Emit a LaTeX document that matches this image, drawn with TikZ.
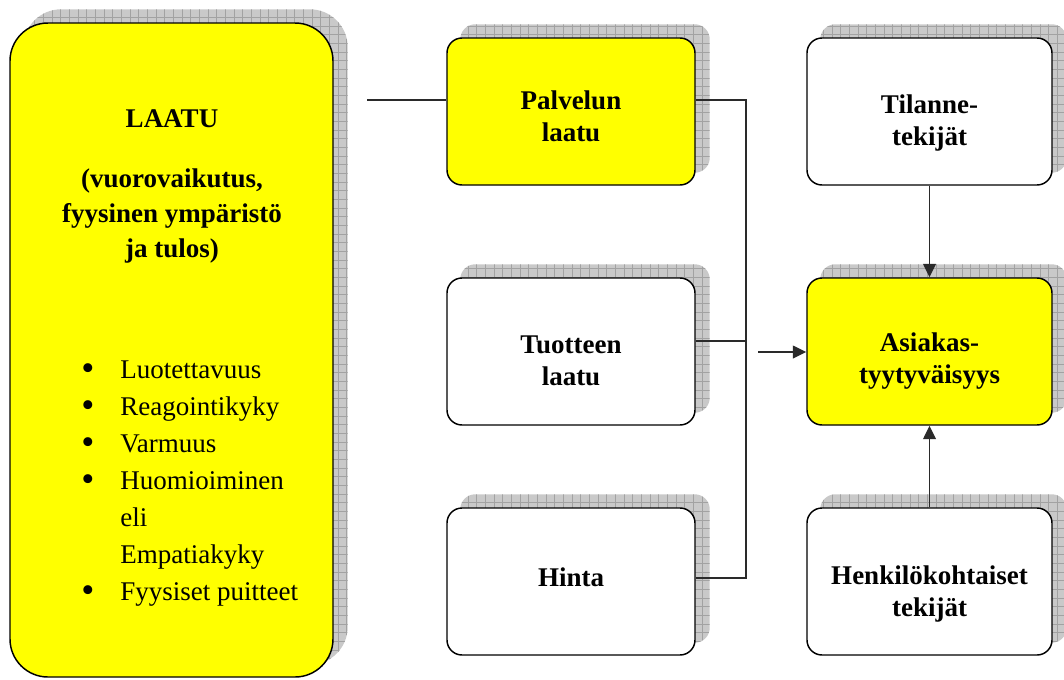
\documentclass[tikz,border=0pt]{standalone}
\usepackage{fontspec}
\setmainfont{Liberation Serif}
\usetikzlibrary{arrows.meta,backgrounds}

\definecolor{boxyellow}{HTML}{FFFF00}
\definecolor{shadowgray}{HTML}{C9C9C9}
\definecolor{gridgray}{HTML}{A2A2A2}
\definecolor{wiregray}{HTML}{2A2A2A}

\tikzset{
  card/.style={draw=black, line width=1.1pt, rounded corners=11.25pt,
    minimum width=186pt, minimum height=110.25pt, inner sep=0pt},
  cardR/.style={card, minimum width=183.75pt},
  bigcard/.style={draw=black, line width=1.1pt, rounded corners=28.5pt,
    minimum width=242.25pt, minimum height=490.5pt, inner sep=0pt},
  title/.style={inner sep=0pt, font=\bfseries\fontsize{20.25}{24}\selectfont},
  bodytext/.style={inner sep=0pt, font=\fontsize{20.25}{27.75}\selectfont},
  wire/.style={draw=wiregray, line width=1.1pt},
  arrow/.style={wire, -{Triangle[length=10pt,width=9.5pt]}},
}

% list bullet, a little larger than the text font's own
\newcommand\listdot{{\fontsize{28}{28}\selectfont\raisebox{-2.2pt}{\textbullet}}}

% grey gridded drop shadow behind a box node, offset up and to the right
\newcommand\castshadow[2]{%
  \begin{scope}
    \path[clip, rounded corners=#2]
      ([shift={(14,-13)}]#1.south west) rectangle ([shift={(14,-13)}]#1.north east);
    \fill[shadowgray]
      ([shift={(14,-13)}]#1.south west) rectangle ([shift={(14,-13)}]#1.north east);
    \draw[gridgray, line width=0.45pt, step=6.5pt]
      ([shift={(14,-13)}]#1.south west) grid ([shift={(14,-13)}]#1.north east);
  \end{scope}}

\begin{document}
\begin{tikzpicture}[x=0.75pt, y=-0.75pt]
\useasboundingbox (0,0) rectangle (1064,679);

% boxes
\node[bigcard, fill=boxyellow] (laatu)    at (171.5,350)  {};
\node[card,  fill=boxyellow]   (palvelun) at (571,111.5)  {};
\node[card,  fill=white]       (tuotteen) at (571,351.5)  {};
\node[card,  fill=white]       (hinta)    at (571,581.5)  {};
\node[cardR, fill=white]       (tilanne)  at (929.5,111.5) {};
\node[cardR, fill=boxyellow]   (asiakas)  at (929.5,351.5) {};
\node[cardR, fill=white]       (henk)     at (929.5,581.5) {};

% shadows
\begin{scope}[on background layer]
  \castshadow{laatu}{28.5pt}
  \foreach \b in {palvelun,tuotteen,hinta,tilanne,asiakas,henk}
    {\castshadow{\b}{11.25pt}}
\end{scope}

% texts
\node[title, anchor=base] (laatuT) at (172,127) {LAATU};
\node[title, font=\bfseries\fontsize{20.25}{26.25}\selectfont, anchor=base] (laatuSub) at (172,187)
  {\begin{tabular}[t]{@{}c@{}}(vuorovaikutus,\\fyysinen ympäristö\\ja tulos)\end{tabular}};
\node[bodytext, anchor=base west] (laatuList) at (81,378)
  {\begin{tabular}[t]{@{}p{29.25pt}@{}l@{}}
   \listdot & Luotettavuus\\
   \listdot & Reagointikyky\\
   \listdot & Varmuus\\
   \listdot & Huomioiminen\\
            & eli\\
            & Empatiakyky\\
   \listdot & Fyysiset puitteet
   \end{tabular}};

\node[title, anchor=base] (palvelunT) at (571,109)
  {\begin{tabular}[t]{@{}c@{}}Palvelun\\laatu\end{tabular}};
\node[title, anchor=base] (tuotteenT) at (571,353)
  {\begin{tabular}[t]{@{}c@{}}Tuotteen\\laatu\end{tabular}};
\node[title, anchor=base] (hintaT) at (571,586) {Hinta};
\node[title, anchor=base] (tilanneT) at (929.5,113)
  {\begin{tabular}[t]{@{}c@{}}Tilanne-\\tekijät\end{tabular}};
\node[title, anchor=base] (asiakasT) at (929.5,351)
  {\begin{tabular}[t]{@{}c@{}}Asiakas-\\tyytyväisyys\end{tabular}};
\node[title, anchor=base] (henkT) at (929.5,584)
  {\begin{tabular}[t]{@{}c@{}}Henkilökohtaiset\\tekijät\end{tabular}};

% connectors
\coordinate (feed)   at (367,100);
\coordinate (busTop) at (746,100);
\coordinate (busMid) at (746,341);
\coordinate (busBot) at (746,578);
\coordinate (join)   at (758,352);

\draw[wire] (feed) -- (feed -| palvelun.west);
\draw[wire] (busTop -| palvelun.east) -- (busTop) -- (busBot) -- (busBot -| hinta.east);
\draw[wire] (busMid -| tuotteen.east) -- (busMid);
\draw[arrow] (join) -- (join -| asiakas.west);
\draw[arrow] (tilanne.south) -- (asiakas.north);
\draw[arrow] (henk.north) -- (asiakas.south);
\end{tikzpicture}
\end{document}
